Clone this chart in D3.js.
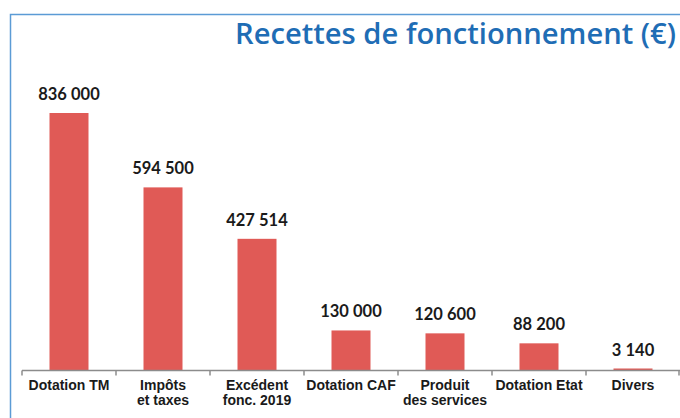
<!DOCTYPE html>
<html><head><meta charset="utf-8">
<script src="https://cdn.jsdelivr.net/npm/d3@7"></script>
<style>body{margin:0;background:#fff}svg{display:block}</style>
</head><body>
<script>
const categories = [["Dotation TM"],["Impôts","et taxes"],["Excédent","fonc. 2019"],["Dotation CAF"],["Produit","des services"],["Dotation Etat"],["Divers"]];
const values = [836000, 594500, 427514, 130000, 120600, 88200, 3140];
const valueLabels = ["836\u2005000","594\u2005500","427\u2005514","130\u2005000","120\u2005600","88\u2005200","3\u2005140"];
const title = "Recettes de fonctionnement (€)";

const W = 680, H = 418;
const svg = d3.select("body").append("svg").attr("width", W).attr("height", H);

// frame
svg.append("path").attr("d", "M10.5,418 V14.5 H680").attr("fill","none").attr("stroke","#5b9bd5").attr("stroke-width",1.5);

svg.append("text").attr("x", 235).attr("y", 44)
  .attr("font-family","'Open Sans', Lato, sans-serif").attr("font-weight",600)
  .attr("font-size",29).attr("fill","#1f6db5")
  .attr("textLength", 441).attr("lengthAdjust","spacingAndGlyphs").text(title);

const x = d3.scaleBand().domain(d3.range(values.length)).range([22, 680]).paddingInner(0).paddingOuter(0);
const y = d3.scaleLinear().domain([0, 836000]).range([370.5, 113]);
const bw = 39;

svg.selectAll("rect.bar").data(values).join("rect").attr("class","bar")
  .attr("x",(d,i)=>x(i)+x.bandwidth()/2-bw/2).attr("width",bw)
  .attr("y",d=>Math.min(y(d), 368.5)).attr("height",d=>Math.max(370.5-y(d),2))
  .attr("fill","#e05a56");

svg.selectAll("text.val").data(values).join("text").attr("class","val")
  .attr("x",(d,i)=>x(i)+x.bandwidth()/2).attr("y",d=>Math.min(y(d),369)-13)
  .attr("text-anchor","middle").attr("font-family","Lato, sans-serif").attr("font-weight",700)
  .attr("font-size",16.5).attr("fill","#1a1a1a").text((d,i)=>valueLabels[i]);

// axis
const axis = svg.append("g").attr("transform","translate(0,370.5)");
axis.append("line").attr("x1",x.range()[0]).attr("x2",680).attr("stroke","#8c8c8c").attr("stroke-width",1.5);
const ticks = d3.range(values.length+1).map(i=> i<values.length ? x(i) : x(values.length-1)+x.bandwidth()-1);
axis.selectAll("line.tick").data(ticks).join("line").attr("class","tick")
  .attr("x1",d=>d).attr("x2",d=>d).attr("y1",0).attr("y2",5).attr("stroke","#8c8c8c").attr("stroke-width",1.5);

const lab = svg.selectAll("text.cat").data(categories).join("text").attr("class","cat")
  .attr("x",(d,i)=>x(i)+x.bandwidth()/2).attr("y",389.5)
  .attr("text-anchor","middle").attr("font-family","'Liberation Sans Narrow', 'Arial Narrow', sans-serif")
  .attr("font-weight",700).attr("font-size",14).attr("fill","#1a1a1a");
lab.selectAll("tspan").data(d=>d).join("tspan")
  .attr("x",function(){return this.parentNode.getAttribute("x");})
  .attr("dy",(d,i)=>i?15.7:0).text(d=>d);
</script>
</body></html>
